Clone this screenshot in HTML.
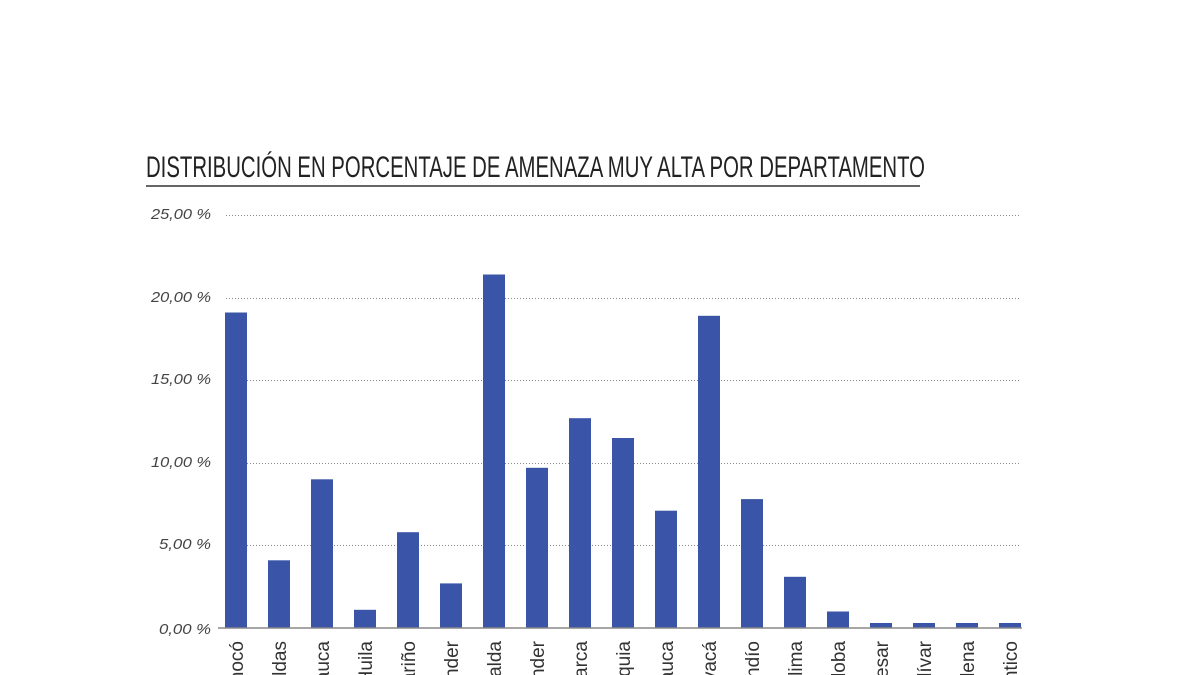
<!DOCTYPE html>
<html><head><meta charset="utf-8"><style>
html,body{margin:0;padding:0;background:#fff;width:1200px;height:675px;overflow:hidden}
</style></head><body>
<svg width="1200" height="675" xmlns="http://www.w3.org/2000/svg" font-family="Liberation Sans, sans-serif">
<text x="146" y="177" font-size="30" fill="#222" textLength="779" lengthAdjust="spacingAndGlyphs">DISTRIBUCIÓN EN PORCENTAJE DE AMENAZA MUY ALTA POR DEPARTAMENTO</text>
<line x1="146" y1="186" x2="920" y2="186" stroke="#333" stroke-width="1.5"/>
<g stroke="#888" stroke-width="1" stroke-dasharray="1,2">
<line x1="226" y1="215.5" x2="1020" y2="215.5"/>
<line x1="226" y1="298.5" x2="1020" y2="298.5"/>
<line x1="226" y1="380.5" x2="1020" y2="380.5"/>
<line x1="226" y1="463.5" x2="1020" y2="463.5"/>
<line x1="226" y1="545.5" x2="1020" y2="545.5"/>
</g>
<g font-size="15" font-style="italic" fill="#444" text-anchor="end">
<text x="211" y="219" textLength="60" lengthAdjust="spacingAndGlyphs">25,00 %</text>
<text x="211" y="302" textLength="60" lengthAdjust="spacingAndGlyphs">20,00 %</text>
<text x="211" y="384" textLength="60" lengthAdjust="spacingAndGlyphs">15,00 %</text>
<text x="211" y="467" textLength="60" lengthAdjust="spacingAndGlyphs">10,00 %</text>
<text x="211" y="549" textLength="52" lengthAdjust="spacingAndGlyphs">5,00 %</text>
<text x="211" y="634" textLength="52" lengthAdjust="spacingAndGlyphs">0,00 %</text>
</g>
<g fill="#3a55a8">
<rect x="225" y="312.5" width="22" height="315.5"/>
<rect x="268" y="560.3" width="22" height="67.7"/>
<rect x="311" y="479.3" width="22" height="148.7"/>
<rect x="354" y="609.8" width="22" height="18.2"/>
<rect x="397" y="532.2" width="22" height="95.8"/>
<rect x="440" y="583.4" width="22" height="44.6"/>
<rect x="483" y="274.5" width="22" height="353.5"/>
<rect x="526" y="467.8" width="22" height="160.2"/>
<rect x="569" y="418.2" width="22" height="209.8"/>
<rect x="612" y="438" width="22" height="190"/>
<rect x="655" y="510.7" width="22" height="117.3"/>
<rect x="698" y="315.8" width="22" height="312.2"/>
<rect x="741" y="499.1" width="22" height="128.9"/>
<rect x="784" y="576.8" width="22" height="51.2"/>
<rect x="827" y="611.5" width="22" height="16.5"/>
<rect x="870" y="623" width="22" height="5"/>
<rect x="913" y="623" width="22" height="5"/>
<rect x="956" y="623" width="22" height="5"/>
<rect x="999" y="623" width="22" height="5"/>
</g>
<line x1="218" y1="628" x2="1022" y2="628" stroke="#888" stroke-width="1.5"/>
<g font-size="19" fill="#333" text-anchor="end">
<text transform="translate(243,641) rotate(-90)">Chocó</text>
<text transform="translate(286,641) rotate(-90)">Caldas</text>
<text transform="translate(329,641) rotate(-90)">Cauca</text>
<text transform="translate(372,641) rotate(-90)">Huila</text>
<text transform="translate(415,641) rotate(-90)">Nariño</text>
<text transform="translate(458,641) rotate(-90)">Santander</text>
<text transform="translate(501,641) rotate(-90)">Risaralda</text>
<text transform="translate(544,641) rotate(-90)">N. Santander</text>
<text transform="translate(587,641) rotate(-90)">Cundinamarca</text>
<text transform="translate(630,641) rotate(-90)">Antioquia</text>
<text transform="translate(673,641) rotate(-90)">Valle del Cauca</text>
<text transform="translate(716,641) rotate(-90)">Boyacá</text>
<text transform="translate(759,641) rotate(-90)">Quindío</text>
<text transform="translate(802,641) rotate(-90)">Tolima</text>
<text transform="translate(845,641) rotate(-90)">Córdoba</text>
<text transform="translate(888,641) rotate(-90)">Cesar</text>
<text transform="translate(931,641) rotate(-90)">Bolívar</text>
<text transform="translate(974,641) rotate(-90)">Magdalena</text>
<text transform="translate(1017,641) rotate(-90)">Atlántico</text>
</g>
</svg>
</body></html>
